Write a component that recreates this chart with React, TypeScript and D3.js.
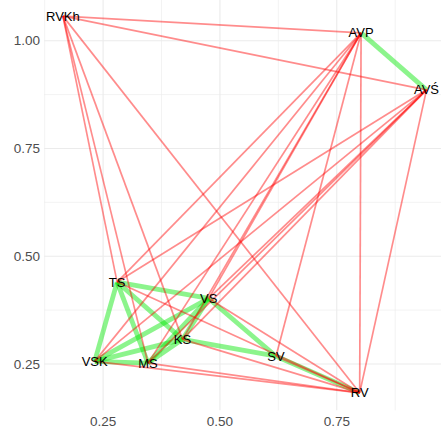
import * as d3 from 'd3';

// node names and positions (layout coordinates)
const nodeNames = ["RVKh", "AVP", "AVŚ", "TS", "VSK", "MS", "KS", "VS", "SV", "RV"];
const nodeX = [0.164, 0.802, 0.942, 0.280, 0.232, 0.346, 0.420, 0.476, 0.620, 0.799];
const nodeY = [1.057, 1.018, 0.886, 0.440, 0.256, 0.252, 0.307, 0.402, 0.268, 0.183];

// positive (green) links
const positiveEdges: [string, string][] = [
  ["AVP", "AVŚ"],
  ["TS", "VSK"], ["TS", "MS"], ["TS", "KS"], ["TS", "VS"],
  ["VSK", "MS"], ["VSK", "KS"], ["VSK", "VS"],
  ["MS", "KS"], ["MS", "VS"], ["KS", "VS"],
  ["KS", "SV"], ["VS", "SV"], ["SV", "RV"],
];

// negative (red) links
const negativeEdges: [string, string][] = [
  ["RVKh", "AVP"], ["RVKh", "AVŚ"], ["RVKh", "TS"], ["RVKh", "MS"], ["RVKh", "KS"], ["RVKh", "RV"],
  ["AVP", "TS"], ["AVP", "VSK"], ["AVP", "MS"], ["AVP", "KS"], ["AVP", "VS"], ["AVP", "SV"], ["AVP", "RV"],
  ["AVŚ", "TS"], ["AVŚ", "VSK"], ["AVŚ", "MS"], ["AVŚ", "KS"], ["AVŚ", "VS"], ["AVŚ", "RV"],
  ["RV", "TS"], ["RV", "VSK"], ["RV", "MS"], ["RV", "KS"], ["RV", "VS"], ["RV", "SV"],
];

const xTicks = [0.25, 0.5, 0.75];
const yTicks = [0.25, 0.5, 0.75, 1.0];
const xMinor = [0.125, 0.375, 0.625, 0.875];
const yMinor = [0.375, 0.625, 0.875];

export default function App() {
  const width = 443;
  const height = 428;

  const x = d3.scaleLinear().domain([0.124, 0.973]).range([44.2, 441]);
  const y = d3.scaleLinear().domain([0.1425, 1.0995]).range([410.3, -2.2]);
  const fmt = d3.format(".2f");

  const pos = (name: string) => {
    const i = nodeNames.indexOf(name);
    return [x(nodeX[i]), y(nodeY[i])];
  };

  const font = "'Liberation Sans', Arial, sans-serif";
  const [top, bottom] = [y.range()[1], y.range()[0]];
  const [left, right] = x.range();

  return (
    <svg width={width} height={height} style={{ position: 'absolute', left: 0, top: 0, background: '#fff' }}>
      {/* grid */}
      <g>
        {xMinor.map(v => (
          <line key={'xm' + v} x1={x(v)} x2={x(v)} y1={top} y2={bottom} stroke="#ebebeb" strokeWidth={0.6} />
        ))}
        {yMinor.map(v => (
          <line key={'ym' + v} y1={y(v)} y2={y(v)} x1={left} x2={right} stroke="#ebebeb" strokeWidth={0.6} />
        ))}
        {xTicks.map(v => (
          <line key={'xM' + v} x1={x(v)} x2={x(v)} y1={top} y2={bottom} stroke="#ebebeb" strokeWidth={1.1} />
        ))}
        {yTicks.map(v => (
          <line key={'yM' + v} y1={y(v)} y2={y(v)} x1={left} x2={right} stroke="#ebebeb" strokeWidth={1.1} />
        ))}
      </g>

      {/* axis labels */}
      <g fontFamily={font} fontSize={13.5} fill="#4d4d4d">
        {xTicks.map(v => (
          <text key={'xt' + v} x={x(v)} y={421.5} dy="0.35em" textAnchor="middle">{fmt(v)}</text>
        ))}
        {yTicks.map(v => (
          <text key={'yt' + v} x={40} y={y(v)} dy="0.35em" textAnchor="end">{fmt(v)}</text>
        ))}
      </g>

      {/* edges */}
      <g stroke="#00e600" strokeOpacity={0.45} strokeWidth={4.8} strokeLinecap="butt">
        {positiveEdges.map(([a, b]) => {
          const [x1, y1] = pos(a);
          const [x2, y2] = pos(b);
          return <line key={a + b} x1={x1} y1={y1} x2={x2} y2={y2} />;
        })}
      </g>
      <g stroke="#ff0000" strokeOpacity={0.45} strokeWidth={1.7}>
        {negativeEdges.map(([a, b]) => {
          const [x1, y1] = pos(a);
          const [x2, y2] = pos(b);
          return <line key={a + b} x1={x1} y1={y1} x2={x2} y2={y2} />;
        })}
      </g>

      {/* node labels */}
      <g fontFamily={font} fontSize={13} fill="#000">
        {nodeNames.map((n, i) => (
          <text key={n} x={x(nodeX[i])} y={y(nodeY[i])} dy="0.35em" textAnchor="middle">{n}</text>
        ))}
      </g>
    </svg>
  );
}
